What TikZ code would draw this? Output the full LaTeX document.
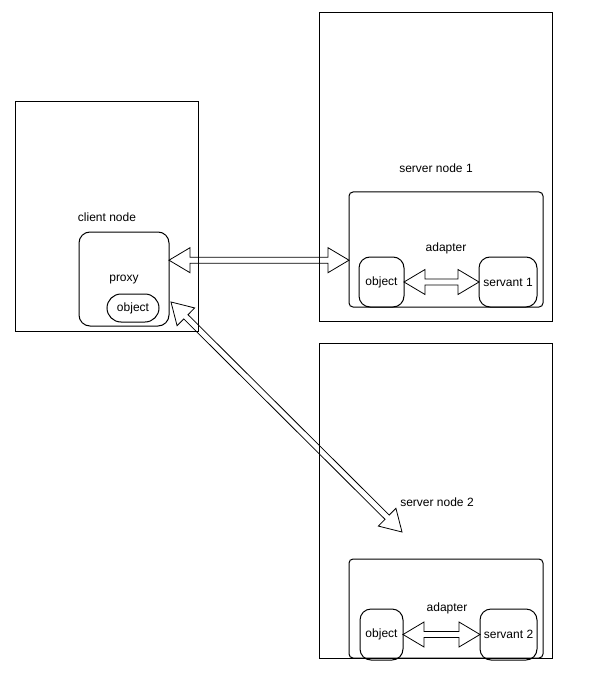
\documentclass[tikz,border=0pt]{standalone}
\usepackage{fontspec}
\setmainfont{Liberation Sans}
\usetikzlibrary{calc}
\tikzset{
  box/.style={draw, line width=1pt, anchor=north west, inner sep=0pt, outer sep=0pt, font=\fontsize{12}{14}\selectfont},
  rbox/.style={box, rounded corners=#1},
  lbl/.style={inner sep=0pt, font=\fontsize{12}{14}\selectfont},
  flexline/.style={draw=black, line width=0.8pt, line join=miter}
}
\newcommand\flexarrow[2]{%
  \path (#1) coordinate (fa-a) (#2) coordinate (fa-b);
  \path ($(fa-a)!21pt!(fa-b)$) coordinate (fa-ha) ($(fa-b)!21pt!(fa-a)$) coordinate (fa-hb);
  \draw[flexline] (fa-a) -- ($(fa-ha)!12.5pt!90:(fa-b)$) -- ($(fa-ha)!3pt!90:(fa-b)$)
    -- ($(fa-hb)!3pt!-90:(fa-a)$) -- ($(fa-hb)!12.5pt!-90:(fa-a)$) -- (fa-b)
    -- ($(fa-hb)!12.5pt!90:(fa-a)$) -- ($(fa-hb)!3pt!90:(fa-a)$)
    -- ($(fa-ha)!3pt!-90:(fa-b)$) -- ($(fa-ha)!12.5pt!-90:(fa-b)$) -- cycle;
}
\begin{document}
\begin{tikzpicture}[x=1pt, y=-1pt]
\useasboundingbox (0,0) rectangle (597,676);
% client side
\node[box, minimum width=183pt, minimum height=229pt] (client) at (15,102) {};
\node[lbl] (clientlbl) at (107,217) {client node};
\node[rbox=11pt, minimum width=90pt, minimum height=94pt] (proxy) at (79,232) {};
\node[lbl] (proxylbl) at (124,280) {proxy};
\node[rbox=14pt, minimum width=52pt, minimum height=28pt] (pobj) at (107,294) {object};
% server node 1
\node[box, minimum width=233pt, minimum height=308pt] (srv1) at (319,13) {};
\node[lbl] (srv1lbl) at (436,168) {server node 1};
\node[rbox=4pt, minimum width=194pt, minimum height=115pt] (ad1) at (349,192) {};
\node[lbl] (ad1lbl) at (446,248) {adapter};
\node[rbox=11pt, minimum width=45pt, minimum height=50pt] (obj1) at (359,257) {object};
\node[rbox=11pt, minimum width=58pt, minimum height=50pt] (sv1) at (479,257) {servant 1};
% server node 2
\node[box, minimum width=233pt, minimum height=315pt] (srv2) at (319,343) {};
\node[lbl] (srv2lbl) at (437,502) {server node 2};
\node[rbox=4pt, minimum width=194pt, minimum height=99pt] (ad2) at (349,559) {};
\node[lbl] (ad2lbl) at (447,608) {adapter};
\node[rbox=11pt, minimum width=43pt, minimum height=51pt] (obj2) at (360,609) {object};
\node[rbox=11pt, minimum width=57pt, minimum height=51pt] (sv2) at (480,609) {servant 2};
% connectors
\coordinate (h1) at ($(proxy.north east)!0.3!(proxy.south east)$);
\flexarrow{h1}{ad1.west |- h1}
\flexarrow{obj1.east}{sv1.west}
\flexarrow{obj2.east}{sv2.west}
\coordinate (d1) at (171,302);
\coordinate (d2) at (402,532);
\flexarrow{d1}{d2}
\end{tikzpicture}
\end{document}
